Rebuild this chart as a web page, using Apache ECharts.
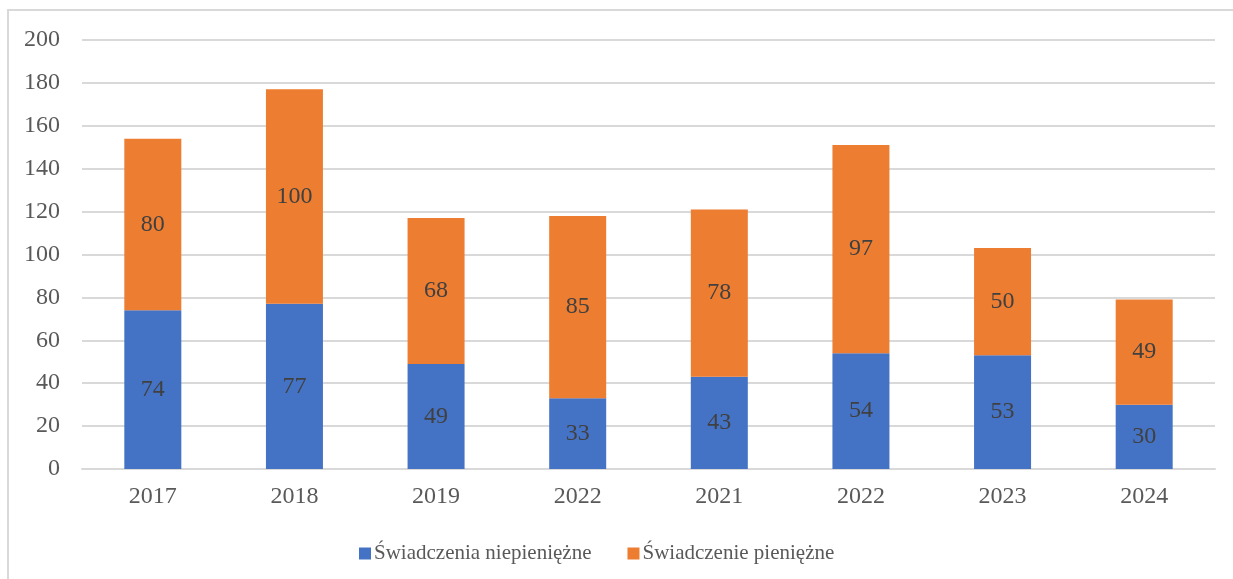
<!DOCTYPE html>
<html>
<head>
<meta charset="utf-8">
<script src="https://cdn.jsdelivr.net/npm/echarts@6/dist/echarts.min.js"></script>
<style>
  html, body { margin: 0; padding: 0; background: #fff; overflow: hidden; }
  .frame {
    position: absolute; left: 7px; top: 9px;
    width: 1300px; height: 700px;
    border: 2px solid #d9d9d9; box-sizing: border-box;
  }
  #chart { position: absolute; left: 0; top: 0; width: 1233px; height: 579px; }
</style>
</head>
<body>
<div class="frame"></div>
<div id="chart"></div>
<script>
  // lata (w oryginale 2022 występuje dwa razy)
  const years = ["2017", "2018", "2019", "2022", "2021", "2022", "2023", "2024"];
  const niepieniezne = [74, 77, 49, 33, 43, 54, 53, 30];
  const pieniezne = [80, 100, 68, 85, 78, 97, 50, 49];
  const seriesNames = ["Świadczenia niepieniężne", "Świadczenie pieniężne"];

  const font = "'Liberation Serif', 'DejaVu Serif', serif";

  const chart = echarts.init(document.getElementById("chart"));

  const barLabel = {
    show: true,
    position: "inside",
    color: "#404040",
    fontSize: 24,
    fontFamily: font
  };

  chart.setOption({
    animation: false,
    textStyle: { fontFamily: font },
    grid: { left: 82, right: 18, top: 40, bottom: 110 },
    legend: {
      left: 354,
      top: 538,
      itemWidth: 12,
      itemHeight: 12,
      itemGap: 36,
      icon: "rect",
      textStyle: { color: "#595959", fontSize: 21, fontFamily: font, padding: [0, 0, 0, -2] },
      data: seriesNames
    },
    xAxis: {
      type: "category",
      data: years,
      axisTick: { show: false },
      axisLine: { lineStyle: { color: "#d9d9d9", width: 2 } },
      axisLabel: { color: "#595959", fontSize: 24, fontFamily: font, margin: 16 }
    },
    yAxis: {
      type: "value",
      min: 0,
      max: 200,
      interval: 20,
      axisLine: { show: false },
      axisTick: { show: false },
      axisLabel: { color: "#595959", fontSize: 24, fontFamily: font, margin: 22 },
      splitLine: { lineStyle: { color: "#d9d9d9", width: 2 } }
    },
    series: [
      {
        name: seriesNames[0],
        type: "bar",
        stack: "total",
        barWidth: 57,
        itemStyle: { color: "#4472c4" },
        label: barLabel,
        data: niepieniezne
      },
      {
        name: seriesNames[1],
        type: "bar",
        stack: "total",
        barWidth: 57,
        itemStyle: { color: "#ed7d31" },
        label: barLabel,
        data: pieniezne
      }
    ]
  });
</script>
</body>
</html>
